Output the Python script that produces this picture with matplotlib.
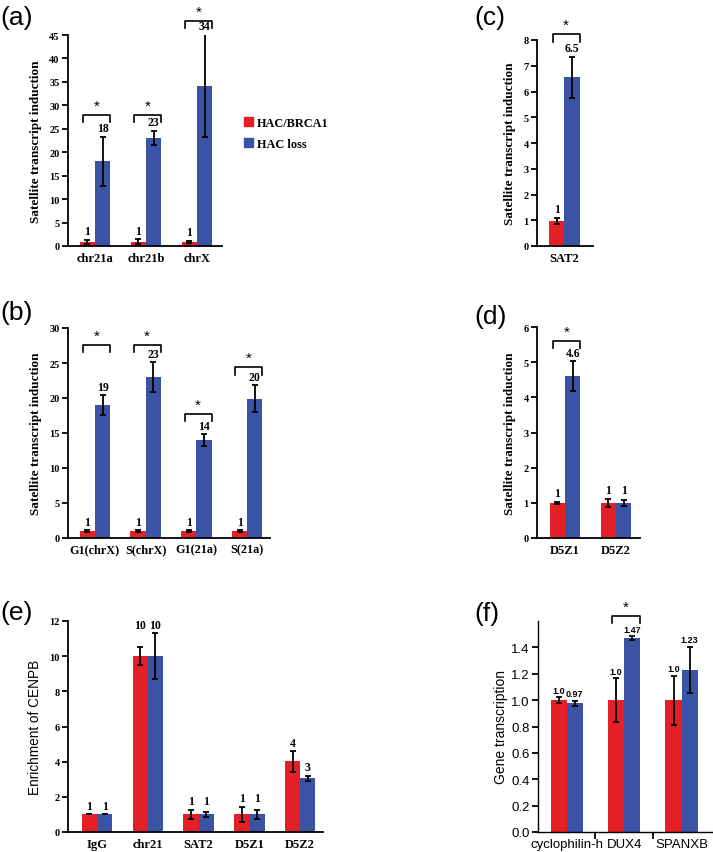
import numpy as np
import matplotlib.pyplot as plt
from matplotlib.patches import Patch

RED = '#e41f26'
BLUE = '#3a53a4'
SERIF = 'Liberation Serif'
SANS = 'Liberation Sans'

# (a) satellite transcripts
a_cats = ['chr21a', 'chr21b', 'chrX']
a_ctrl = [0.9, 0.9, 0.9]
a_ctrl_err = [0.4, 0.5, 0.2]
a_loss = [18.1, 23.1, 34.2]
a_loss_err = [5.2, 1.5, 11.0]
a_ctrl_lab = ['1', '1', '1']
a_loss_lab = ['18', '23', '34']
a_sig = [28, 28, 48]

# (b) cell cycle
b_cats = ['G1(chrX)', 'S(chrX)', 'G1(21a)', 'S(21a)']
b_ctrl = [1, 1, 1, 1]
b_ctrl_err = [0.1, 0.1, 0.1, 0.1]
b_loss = [19.0, 23.0, 14.0, 19.9]
b_loss_err = [1.4, 2.1, 0.8, 1.9]
b_ctrl_lab = ['1', '1', '1', '1']
b_loss_lab = ['19', '23', '14', '20']
b_sig = [27.6, 27.6, 17.7, 24.4]

# (c) SAT2
c_cats = ['SAT2']
c_ctrl = [0.98]
c_ctrl_err = [0.12]
c_loss = [6.55]
c_loss_err = [0.8]
c_ctrl_lab = ['1']
c_loss_lab = ['6.5']
c_sig = [8.22]

# (d) D5Z
d_cats = ['D5Z1', 'D5Z2']
d_ctrl = [1.0, 1.0]
d_ctrl_err = [0.03, 0.12]
d_loss = [4.6, 1.0]
d_loss_err = [0.42, 0.08]
d_ctrl_lab = ['1', '1']
d_loss_lab = ['4.6', '1']
d_sig = [5.6, None]

# (e) CENPB ChIP
e_cats = ['IgG', 'chr21', 'SAT2', 'D5Z1', 'D5Z2']
e_ctrl = [1, 10, 1, 1, 4.02]
e_ctrl_err = [0, 0.5, 0.25, 0.42, 0.58]
e_loss = [1, 10, 1, 1, 3.05]
e_loss_err = [0, 1.3, 0.15, 0.25, 0.15]
e_ctrl_lab = ['1', '10', '1', '1', '4']
e_loss_lab = ['1', '10', '1', '1', '3']

# (f) gene transcription
f_cats = ['cyclophilin-h', 'DUX4', 'SPANXB']
f_ctrl = [1.0, 1.0, 1.0]
f_ctrl_err = [0.02, 0.165, 0.185]
f_loss = [0.975, 1.47, 1.23]
f_loss_err = [0.02, 0.015, 0.175]
f_ctrl_lab = ['1.0', '1.0', '1.0']
f_loss_lab = ['0.97', '1.47', '1.23']
f_sig = [None, 1.64, None]

W, H = 713, 853
fig = plt.figure(figsize=(W / 100, H / 100), dpi=100)


def box(left, right, top, bottom):
    return [left / W, 1 - bottom / H, (right - left) / W, (bottom - top) / H]


def panel(rect, cats, ctrl, ctrl_err, loss, loss_err, ctrl_lab, loss_lab,
          ylim, yticks, xlim, ylabel, sig=None, width=0.3, sans=False,
          ylab_sans=False, lab_size=8.5, cap=2.5, xsize=9, ylsize=9.5, lpad=5):
    ax = fig.add_axes(rect)
    x = np.arange(len(cats))
    ekw = dict(elinewidth=1.3, capthick=1.3, ecolor='black')
    ax.bar(x - width / 2, ctrl, width, color=RED, yerr=ctrl_err, capsize=cap,
           error_kw=ekw)
    ax.bar(x + width / 2, loss, width, color=BLUE, yerr=loss_err, capsize=cap,
           error_kw=ekw)
    ax.set_xlim(xlim)
    ax.set_ylim(ylim)
    ax.set_yticks(yticks)
    ax.spines['top'].set_visible(False)
    ax.spines['right'].set_visible(False)
    ax.spines['left'].set_linewidth(1.3)
    ax.spines['bottom'].set_linewidth(1.3)
    ax.set_xticks(x)
    fam = SANS if sans else SERIF
    wt = 'normal' if sans else 'bold'
    ax.set_xticklabels(cats, family=fam, weight=wt, fontsize=xsize)
    for t in ax.get_yticklabels():
        t.set_family(fam)
        t.set_weight(wt)
        t.set_fontsize(9.5 if sans else 7.5)
    ax.tick_params(axis='x', length=0, pad=4)
    ax.tick_params(axis='y', length=4, width=1.3, pad=2)
    if ylab_sans:
        ax.set_ylabel(ylabel, family=SANS, fontsize=ylsize, labelpad=lpad)
    else:
        ax.set_ylabel(ylabel, family=SERIF, weight='bold', fontsize=ylsize, labelpad=lpad)
    ymax = ylim[1]
    pad = 0.012 * ymax
    for i in range(len(cats)):
        t1 = ctrl[i] + ctrl_err[i]
        t2 = loss[i] + loss_err[i]
        if ctrl_lab[i] == loss_lab[i]:
            t1 = t2 = max(t1, t2)
        ax.text(x[i] - width / 2, t1 + pad, ctrl_lab[i], ha='center', va='bottom',
                family=fam, weight='bold', fontsize=lab_size)
        ax.text(x[i] + width / 2, t2 + pad, loss_lab[i], ha='center', va='bottom',
                family=fam, weight='bold', fontsize=lab_size)
        if sig is not None and sig[i] is not None:
            y = sig[i]
            drop = 0.035 * ymax
            ax.plot([x[i] - width / 2 - 0.08, x[i] - width / 2 - 0.08,
                     x[i] + width, x[i] + width],
                    [y - drop, y, y, y - drop], color='black', lw=1.2,
                    clip_on=False)
            ax.text(x[i] + 0.03, y + 0.01 * ymax, '*', ha='center', va='bottom',
                    family=SANS, fontsize=11, clip_on=False)
    return ax


ax_a = panel(box(68, 222, 36, 247), a_cats, a_ctrl, a_ctrl_err, a_loss, a_loss_err,
             a_ctrl_lab, a_loss_lab, (0, 45), np.arange(0, 46, 5), (-0.53, 2.49),
             'Satellite transcript induction', sig=a_sig)
ax_c = panel(box(537, 593, 41, 247), c_cats, c_ctrl, c_ctrl_err, c_loss, c_loss_err,
             c_ctrl_lab, c_loss_lab, (0, 8), np.arange(0, 9, 1), (-0.53, 0.55),
             'Satellite transcript induction', sig=c_sig)
ax_b = panel(box(68, 270, 329, 539), b_cats, b_ctrl, b_ctrl_err, b_loss, b_loss_err,
             b_ctrl_lab, b_loss_lab, (0, 30), np.arange(0, 31, 5), (-0.53, 3.45),
             'Satellite transcript induction', sig=b_sig, xsize=8.8)
ax_d = panel(box(537, 640, 328, 539), d_cats, d_ctrl, d_ctrl_err, d_loss, d_loss_err,
             d_ctrl_lab, d_loss_lab, (0, 6), np.arange(0, 7, 1), (-0.55, 1.47),
             'Satellite transcript induction', sig=d_sig)
ax_e = panel(box(68, 323, 622, 833), e_cats, e_ctrl, e_ctrl_err, e_loss, e_loss_err,
             e_ctrl_lab, e_loss_lab, (0, 12), np.arange(0, 13, 2), (-0.57, 4.45),
             'Enrichment of CENPB', ylab_sans=True, ylsize=9.8)
ax_f = panel(box(538, 712, 622, 833), f_cats, f_ctrl, f_ctrl_err, f_loss, f_loss_err,
             f_ctrl_lab, f_loss_lab, (0, 1.6), np.arange(0, 1.41, 0.2), (-0.5, 2.53),
             'Gene transcription', sig=f_sig, width=0.28, sans=True, ylab_sans=True,
             lab_size=6.5, cap=2, xsize=9.5, ylsize=10, lpad=2)
ax_f.set_yticklabels([f'{v:.1f}' for v in np.arange(0, 1.41, 0.2)], family=SANS,
                     fontsize=9.5)
ax_f.set_xticks([0.5, 1.5], minor=True)
ax_f.tick_params(axis='x', which='minor', length=5, width=1.3)
ax_f.spines['left'].set_linewidth(1.0)
ax_f.spines['bottom'].set_linewidth(1.0)

fig.legend(handles=[Patch(color=RED, label='HAC/BRCA1'), Patch(color=BLUE, label='HAC loss')],
           loc='upper left', bbox_to_anchor=(233 / W, 1 - 107 / H), frameon=False,
           handlelength=0.75, handleheight=0.75, handletextpad=0.3, labelspacing=0.7,
           prop={'family': SERIF, 'weight': 'bold', 'size': 8.8})

for lab, px, py in [('(a)', 0, 18), ('(c)', 474, 18), ('(b)', 0, 313),
                    ('(d)', 474, 317), ('(e)', 0, 613), ('(f)', 474, 614)]:
    fig.text(px / W, 1 - py / H, lab, ha='left', va='center', family=SANS, fontsize=19)

fig.savefig('out.png', dpi=100)
